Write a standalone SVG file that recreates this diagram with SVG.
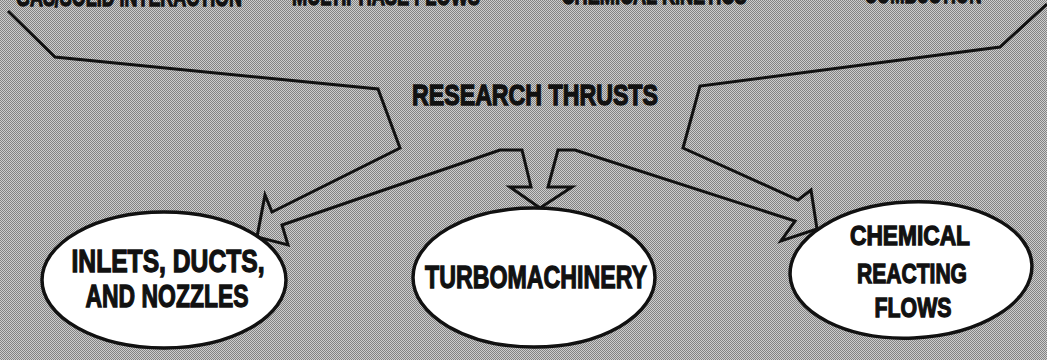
<svg xmlns="http://www.w3.org/2000/svg" width="1047" height="360" viewBox="0 0 1047 360">
<defs>
<pattern id="ht" width="2" height="2" patternUnits="userSpaceOnUse">
<rect width="2" height="2" fill="#cdcdcd"/>
<rect width="1" height="1" fill="#838383"/>
<rect x="1" y="1" width="1" height="1" fill="#838383"/>
</pattern>
<style>
.lbl{font-family:"Liberation Sans","DejaVu Sans",sans-serif;font-weight:bold;fill:#111;stroke:#111;stroke-width:1.3;text-anchor:middle}
.node ellipse{fill:#fff;stroke:#111;stroke-width:3.5}
.conn{fill:none;stroke:#111;stroke-width:3;stroke-linejoin:miter}
</style>
</defs>
<rect width="1047" height="360" fill="url(#ht)"/>
<g id="top-labels">
<text class="lbl" x="129" y="6" font-size="28" textLength="226" lengthAdjust="spacingAndGlyphs">GAS/SOLID INTERACTION</text>
<text class="lbl" x="386" y="5" font-size="28" textLength="188" lengthAdjust="spacingAndGlyphs">MULTIPHASE FLOWS</text>
<text class="lbl" x="654" y="4" font-size="28" textLength="185" lengthAdjust="spacingAndGlyphs">CHEMICAL KINETICS</text>
<text class="lbl" x="923" y="3" font-size="28" textLength="117" lengthAdjust="spacingAndGlyphs">COMBUSTION</text>
</g>
<g id="connectors">
<path class="conn" d="M8,11 L55,57 L378,89 L400,148 L272,212 L265,195 L257,237 L288,245 L282,225 L500,150 L522,150 L531,187 L510,187 L540,208 L572,187 L548,187 L558,150 L575,150 L795,221 L781,241 L817,229 L811,190 L798,200 L683,148 L700,86 L1000,47 L1047,4"/>
</g>
<g id="research-thrusts">
<text class="lbl" x="535" y="105" font-size="30" textLength="246" lengthAdjust="spacingAndGlyphs">RESEARCH THRUSTS</text>
</g>
<g id="node-inlets" class="node">
<ellipse cx="164" cy="280" rx="122" ry="68"/>
<text class="lbl" x="168" y="272" font-size="31" textLength="193" lengthAdjust="spacingAndGlyphs">INLETS, DUCTS,</text>
<text class="lbl" x="167" y="307" font-size="31" textLength="163" lengthAdjust="spacingAndGlyphs">AND NOZZLES</text>
</g>
<g id="node-turbo" class="node">
<ellipse cx="534" cy="277.5" rx="121" ry="69.5"/>
<text class="lbl" x="536" y="288" font-size="32" textLength="222" lengthAdjust="spacingAndGlyphs">TURBOMACHINERY</text>
</g>
<g id="node-chemical" class="node">
<ellipse cx="911" cy="270" rx="121" ry="68" transform="rotate(-2.5 911 270)"/>
<text class="lbl" x="910" y="245" font-size="28" textLength="120" lengthAdjust="spacingAndGlyphs">CHEMICAL</text>
<text class="lbl" x="912" y="283" font-size="28" textLength="110" lengthAdjust="spacingAndGlyphs">REACTING</text>
<text class="lbl" x="913" y="317" font-size="28" textLength="77" lengthAdjust="spacingAndGlyphs">FLOWS</text>
</g>
</svg>
